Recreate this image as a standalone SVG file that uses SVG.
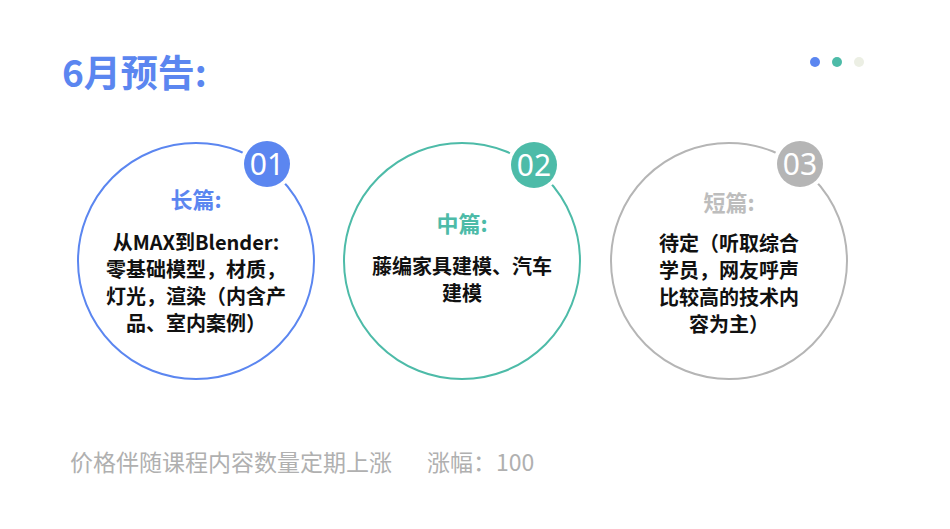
<svg xmlns="http://www.w3.org/2000/svg" width="950" height="529" viewBox="0 0 950 529">
<style>
text{font-family:"Noto Sans CJK SC","Noto Sans",sans-serif}
.ring{fill:#fff;stroke-width:2}
.num{font-family:"Noto Sans","Noto Sans CJK SC",sans-serif;font-size:30px;fill:#fff;text-anchor:middle}
.h{font-size:22px;font-weight:bold;text-anchor:middle}
.b{font-size:20px;font-weight:bold;fill:#111;text-anchor:middle}
.f{font-size:23px;fill:#b0b0b0}
</style>
<rect width="950" height="529" fill="#fff"/>
<text x="62" y="87" font-size="37" font-weight="bold" fill="#5b86f0">6月预告:</text>
<circle cx="815" cy="62" r="5" fill="#5b86f0"/>
<circle cx="837" cy="62" r="5" fill="#4dbba8"/>
<circle cx="859" cy="62" r="5" fill="#ecefe4"/>
<g id="node1">
<circle class="ring" cx="196" cy="261" r="118" stroke="#5b86f0"/>
<circle cx="267" cy="164" r="27" fill="#fff"/>
<circle cx="267" cy="164" r="23" fill="#5b86f0"/>
<text class="num" x="267" y="175">01</text>
<text class="h" x="196" y="208" fill="#5b86f0">长篇:</text>
<text class="b" x="196" y="250">从MAX到Blender:</text>
<text class="b" x="196" y="277">零基础模型，材质，</text>
<text class="b" x="196" y="304">灯光，渲染（内含产</text>
<text class="b" x="196" y="331">品、室内案例）</text>
</g>
<g id="node2">
<circle class="ring" cx="462" cy="261" r="118" stroke="#4dbba8"/>
<circle cx="534" cy="165" r="27" fill="#fff"/>
<circle cx="534" cy="165" r="23" fill="#4dbba8"/>
<text class="num" x="534" y="176">02</text>
<text class="h" x="462" y="232" fill="#4dbba8">中篇:</text>
<text class="b" x="462" y="274">藤编家具建模、汽车</text>
<text class="b" x="462" y="301">建模</text>
</g>
<g id="node3">
<circle class="ring" cx="729" cy="261" r="118" stroke="#b5b5b5"/>
<circle cx="800" cy="164" r="27" fill="#fff"/>
<circle cx="800" cy="164" r="23" fill="#b5b5b5"/>
<text class="num" x="800" y="175">03</text>
<text class="h" x="729" y="211" fill="#bdbdbd">短篇:</text>
<text class="b" x="729" y="251">待定（听取综合</text>
<text class="b" x="729" y="278">学员，网友呼声</text>
<text class="b" x="729" y="305">比较高的技术内</text>
<text class="b" x="729" y="332">容为主）</text>
</g>
<g id="connectors"/>
<text class="f" x="70" y="471">价格伴随课程内容数量定期上涨</text>
<text class="f" x="427" y="471">涨幅：100</text>
</svg>
